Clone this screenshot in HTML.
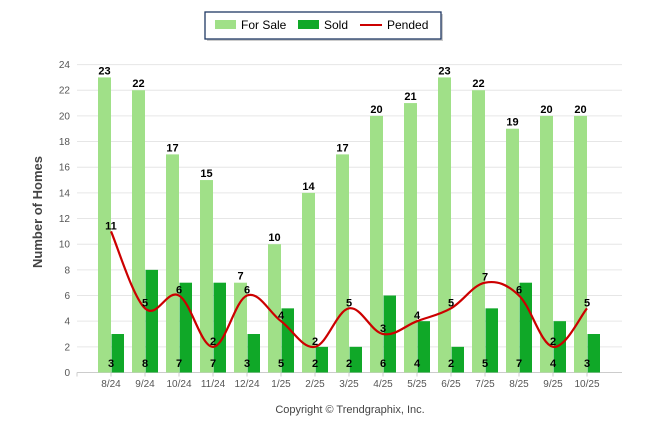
<!DOCTYPE html>
<html><head><meta charset="utf-8"><style>
body{margin:0;background:#fff;}
svg{display:block;font-family:"Liberation Sans",Arial,sans-serif;}
</style></head><body>
<svg id="c" width="646" height="434" xmlns="http://www.w3.org/2000/svg"></svg>
<script>
const fs=[23,22,17,15,7,10,14,17,20,21,23,22,19,20,20];
const sd=[3,8,7,7,3,5,2,2,6,4,2,5,7,4,3];
const pd=[11,5,6,2,6,4,2,5,3,4,5,7,6,2,5];
const lb=["8/24","9/24","10/24","11/24","12/24","1/25","2/25","3/25","4/25","5/25","6/25","7/25","8/25","9/25","10/25"];
const Y=v=>372.5-12.83*v, X=i=>111+34*i;
let s='';
s+='<rect x="207" y="14" width="236" height="27" fill="#999" opacity="0.5"/>';
s+='<rect x="205" y="12" width="236" height="27" fill="#fff" stroke="#1f3864" stroke-width="1.3"/>';
s+='<rect x="215" y="20" width="21" height="9" fill="#a0e088"/><text x="241" y="29" font-size="12" fill="#000">For Sale</text>';
s+='<rect x="298" y="20" width="21" height="9" fill="#10a828"/><text x="324" y="29" font-size="12">Sold</text>';
s+='<rect x="360" y="24" width="22" height="2" fill="#c00"/><text x="387" y="29" font-size="12">Pended</text>';
for(let v=0;v<=24;v+=2){const y=Y(v);s+=`<line x1="77" x2="622" y1="${y}" y2="${y}" stroke="#e6e6e6"/>`;
s+=`<text x="70" y="${y+3.5}" font-size="10" fill="#555" text-anchor="end">${v}</text>`;}
s+=`<line x1="77" x2="622" y1="${Y(0)}" y2="${Y(0)}" stroke="#ccc"/>`;
for(let i=0;i<=15;i++){s+=`<line x1="${77+34*i}" x2="${77+34*i}" y1="${Y(0)}" y2="${Y(0)+4}" stroke="#ccc"/>`;}
s+='<text transform="translate(42,212) rotate(-90)" font-size="13" font-weight="bold" fill="#444" text-anchor="middle">Number of Homes</text>';
for(let i=0;i<15;i++){const x=X(i);
s+=`<rect x="${x-13}" y="${Y(fs[i])}" width="13" height="${Y(0)-Y(fs[i])}" fill="#a0e088"/>`;
s+=`<rect x="${x+0.5}" y="${Y(sd[i])}" width="12.5" height="${Y(0)-Y(sd[i])}" fill="#10a828"/>`;
s+=`<text x="${x-6.5}" y="${Y(fs[i])-3}" font-size="11" font-weight="bold" text-anchor="middle">${fs[i]}</text>`;
s+=`<text x="${x}" y="${367}" font-size="11" font-weight="bold" text-anchor="middle">${sd[i]}</text>`;
s+=`<text x="${x}" y="387" font-size="10" fill="#555" text-anchor="middle">${lb[i]}</text>`;}
const P=pd.map((v,i)=>[X(i),Y(v)]);
let d=`M${P[0][0]},${P[0][1]}`;
for(let i=0;i<P.length-1;i++){const p0=P[Math.max(0,i-1)],p1=P[i],p2=P[i+1],p3=P[Math.min(P.length-1,i+2)];
const t=0.18;
d+=` C${p1[0]+(p2[0]-p0[0])*t},${p1[1]+(p2[1]-p0[1])*t} ${p2[0]-(p3[0]-p1[0])*t},${p2[1]-(p3[1]-p1[1])*t} ${p2[0]},${p2[1]}`;}
s+=`<path d="${d}" fill="none" stroke="#c00" stroke-width="2.2"/>`;
for(let i=0;i<15;i++)s+=`<text x="${X(i)}" y="${Y(pd[i])-2}" font-size="11" font-weight="bold" text-anchor="middle">${pd[i]}</text>`;
s+='<text x="350" y="413" font-size="11" fill="#444" text-anchor="middle">Copyright © Trendgraphix, Inc.</text>';
document.getElementById('c').innerHTML=s;
</script>
</body></html>
